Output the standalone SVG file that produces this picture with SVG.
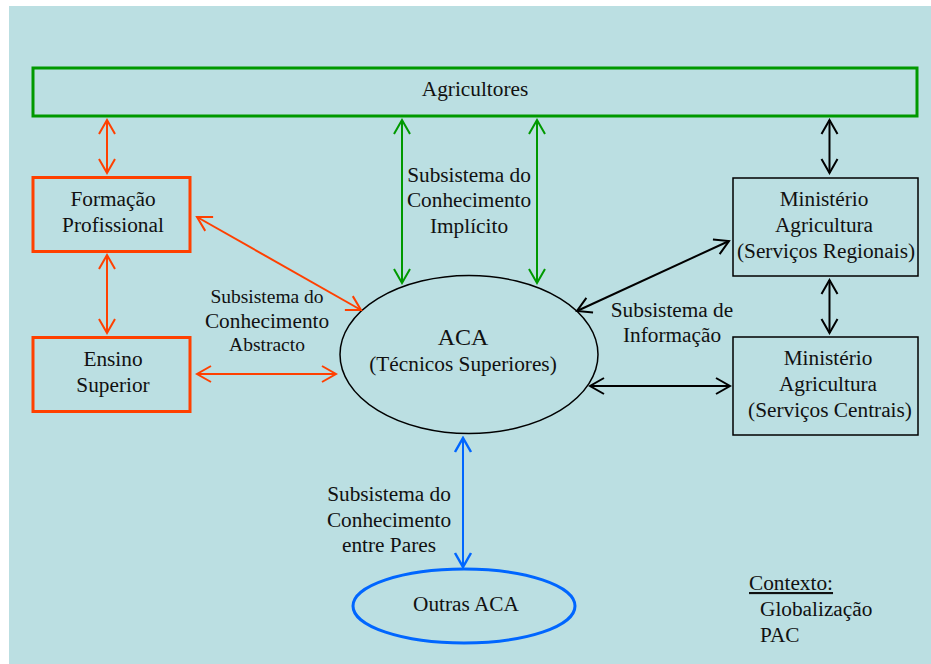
<svg xmlns="http://www.w3.org/2000/svg" width="931" height="664" viewBox="0 0 931 664">
<style>
text{font-family:"Liberation Serif","Times New Roman",serif;font-size:21.3px;fill:#111;text-anchor:middle}
.sm{font-size:19.5px}
.big{font-size:24px}
.l{text-anchor:start}
.red{stroke:#FF4000;fill:none}
.grn{stroke:#009900;fill:none}
.blk{stroke:#000;fill:none}
.blu{stroke:#0066FF;fill:none}
.c line{stroke-width:2}
</style>
<defs>
<marker id="mr" viewBox="-16 -10 18 20" refX="0" refY="0" markerWidth="18" markerHeight="20" markerUnits="userSpaceOnUse" orient="auto-start-reverse"><path d="M-14,-8 L0,0 L-14,8" fill="none" stroke="#FF4000" stroke-width="2"/></marker>
<marker id="mg" viewBox="-16 -10 18 20" refX="0" refY="0" markerWidth="18" markerHeight="20" markerUnits="userSpaceOnUse" orient="auto-start-reverse"><path d="M-14,-8 L0,0 L-14,8" fill="none" stroke="#009900" stroke-width="2"/></marker>
<marker id="mk" viewBox="-16 -10 18 20" refX="0" refY="0" markerWidth="18" markerHeight="20" markerUnits="userSpaceOnUse" orient="auto-start-reverse"><path d="M-14,-8 L0,0 L-14,8" fill="none" stroke="#000" stroke-width="2"/></marker>
<marker id="mb" viewBox="-16 -10 18 20" refX="0" refY="0" markerWidth="18" markerHeight="20" markerUnits="userSpaceOnUse" orient="auto-start-reverse"><path d="M-14,-8 L0,0 L-14,8" fill="none" stroke="#0066FF" stroke-width="2.5"/></marker>
</defs>
<rect x="0" y="0" width="931" height="664" fill="#fff"/>
<rect x="9" y="6" width="922" height="658" fill="#BBDFE2"/>

<g id="agricultores">
<rect x="33" y="68" width="884" height="48" class="grn" stroke-width="3"/>
<text x="475" y="96">Agricultores</text>
</g>
<g id="formacao">
<rect x="33" y="177.5" width="157" height="74" class="red" stroke-width="3"/>
<text x="113" y="206">Formação</text>
<text x="113" y="232">Profissional</text>
</g>
<g id="ensino">
<rect x="33" y="337.5" width="157" height="74" class="red" stroke-width="3"/>
<text x="113" y="366">Ensino</text>
<text x="113" y="392">Superior</text>
</g>
<g id="aca">
<ellipse cx="469" cy="354.5" rx="129" ry="79" class="blk" stroke-width="1.5"/>
<text x="463" y="345" class="big">ACA</text>
<text x="463" y="371">(Técnicos Superiores)</text>
</g>
<g id="outras-aca">
<ellipse cx="464" cy="606" rx="111" ry="37" class="blu" stroke-width="3"/>
<text x="466" y="611">Outras ACA</text>
</g>
<g id="ministerio-regionais">
<rect x="733" y="178" width="185" height="98" class="blk" stroke-width="1.5"/>
<text x="824" y="206">Ministério</text>
<text x="824" y="232">Agricultura</text>
<text x="826" y="258">(Serviços Regionais)</text>
</g>
<g id="ministerio-centrais">
<rect x="733" y="337" width="185" height="98" class="blk" stroke-width="1.5"/>
<text x="828" y="365">Ministério</text>
<text x="828" y="391">Agricultura</text>
<text x="830" y="417">(Serviços Centrais)</text>
</g>

<g id="connectors" class="c">
<line x1="107" y1="120" x2="107" y2="173" class="red" marker-start="url(#mr)" marker-end="url(#mr)"/>
<line x1="107" y1="255" x2="107" y2="333" class="red" marker-start="url(#mr)" marker-end="url(#mr)"/>
<line x1="197" y1="217" x2="361" y2="310" class="red" marker-start="url(#mr)" marker-end="url(#mr)"/>
<line x1="197" y1="374" x2="336" y2="374" class="red" marker-start="url(#mr)" marker-end="url(#mr)"/>
<line x1="402" y1="120" x2="402" y2="283" class="grn" marker-start="url(#mg)" marker-end="url(#mg)"/>
<line x1="537" y1="120" x2="537" y2="283" class="grn" marker-start="url(#mg)" marker-end="url(#mg)"/>
<line x1="829.5" y1="120" x2="829.5" y2="173" class="blk" marker-start="url(#mk)" marker-end="url(#mk)"/>
<line x1="829.5" y1="280" x2="829.5" y2="333" class="blk" marker-start="url(#mk)" marker-end="url(#mk)"/>
<line x1="577" y1="311" x2="729" y2="241" class="blk" marker-start="url(#mk)" marker-end="url(#mk)"/>
<line x1="590" y1="386" x2="730" y2="386" class="blk" marker-start="url(#mk)" marker-end="url(#mk)"/>
<line x1="463" y1="438" x2="463" y2="567" class="blu" stroke-width="2.5" marker-start="url(#mb)" marker-end="url(#mb)"/>
</g>

<g id="labels">
<text x="267" y="303" class="sm">Subsistema do</text>
<text x="267" y="328">Conhecimento</text>
<text x="267" y="351" class="sm">Abstracto</text>
<text x="469" y="182">Subsistema do</text>
<text x="469" y="207">Conhecimento</text>
<text x="469" y="233">Implícito</text>
<text x="672" y="317">Subsistema de</text>
<text x="672" y="342">Informação</text>
<text x="389" y="501">Subsistema do</text>
<text x="389" y="527">Conhecimento</text>
<text x="389" y="552">entre Pares</text>
</g>
<g id="contexto">
<text x="749" y="590" class="l" text-decoration="underline">Contexto:</text>
<text x="760" y="616" class="l">Globalização</text>
<text x="760" y="642" class="l">PAC</text>
</g>
</svg>
